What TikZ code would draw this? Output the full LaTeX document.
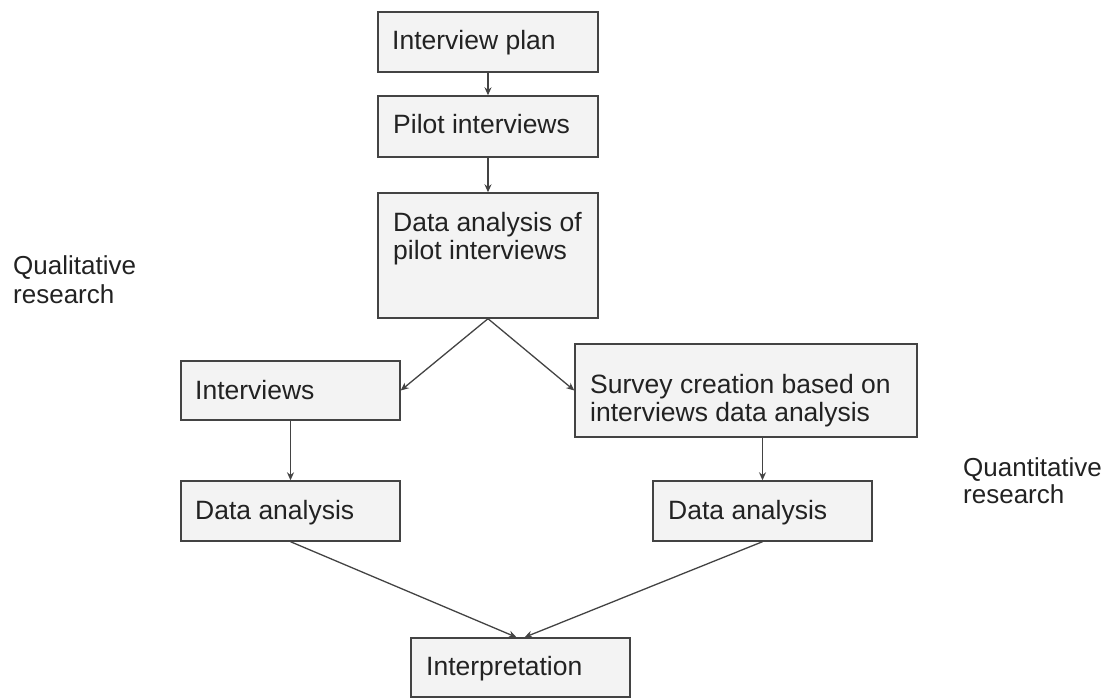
\documentclass[tikz,border=0pt]{standalone}
\usepackage{fontspec}
\setmainfont{Liberation Sans}
\usetikzlibrary{arrows.meta,calc}
\definecolor{boxfill}{HTML}{F3F3F3}
\definecolor{boxline}{HTML}{434343}
\definecolor{txtcol}{HTML}{222222}
\tikzset{
  box/.style={draw=boxline, fill=boxfill, line width=1.4pt, rectangle, inner sep=0pt},
  txt/.style={anchor=base west, inner sep=0pt, text=txtcol, align=left,
    font=\fontsize{26.5}{28}\selectfont},
  conn/.style={draw=boxline, line width=1.3pt, -{Stealth[length=8pt,width=7pt]}}
}
\begin{document}
\begin{tikzpicture}[x=1pt,y=-1pt]
\useasboundingbox (0,0) rectangle (1119,698);
% boxes
\node[box, minimum width=220pt, minimum height=60pt] (A) at (488,42) {};
\node[box, minimum width=220pt, minimum height=61pt] (B) at (488,126.5) {};
\node[box, minimum width=220pt, minimum height=125pt] (C) at (488,255.5) {};
\node[box, minimum width=219pt, minimum height=59pt] (D) at (290.5,390.5) {};
\node[box, minimum width=342pt, minimum height=93pt] (E) at (746,390.5) {};
\node[box, minimum width=219pt, minimum height=60pt] (F) at (290.5,511) {};
\node[box, minimum width=219pt, minimum height=60pt] (G) at (762.5,511) {};
\node[box, minimum width=219pt, minimum height=59pt] (H) at (520.5,667.5) {};
% texts (multi-line: base = last line)
\node[txt] (tA) at (392,50) {Interview plan};
\node[txt] (tB) at (393,134) {Pilot interviews};
\node[txt] (tC) at (393,259) {Data analysis of\\pilot interviews};
\node[txt] (tD) at (195,399) {Interviews};
\node[txt] (tE) at (590,421) {Survey creation based on\\interviews data analysis};
\node[txt] (tF) at (195,519) {Data analysis};
\node[txt] (tG) at (668,519) {Data analysis};
\node[txt] (tH) at (426,675) {Interpretation};
\node[txt, font=\fontsize{26}{29}\selectfont] (ql) at (13,303) {Qualitative\\research};
\node[txt, font=\fontsize{26}{27}\selectfont] (qn) at (963,503) {Quantitative\\research};
% connectors
\draw[conn] (A.south) -- (B.north);
\draw[conn] (B.south) -- (C.north);
\draw[conn] (C.south) -- (D.east);
\draw[conn] (C.south) -- (E.west);
\draw[conn] (D.south) -- (F.north);
\draw[conn] (E.south -| G.north) -- (G.north);
\draw[conn] (F.south) -- ([xshift=-4pt]H.north);
\draw[conn] (G.south) -- ([xshift=4pt]H.north);
\end{tikzpicture}
\end{document}
